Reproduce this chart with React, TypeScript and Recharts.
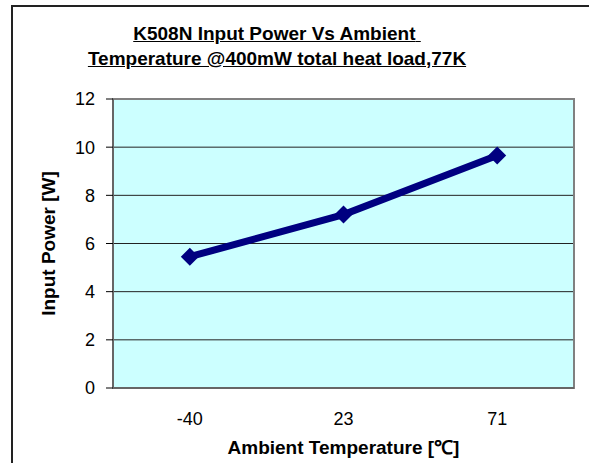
import {
  LineChart,
  Line,
  XAxis,
  YAxis,
  CartesianGrid,
  ReferenceArea,
} from "recharts";

const temps = ["-40", "23", "71"];
const inputPower = [5.45, 7.2, 9.65];
const yTicks = [0, 2, 4, 6, 8, 10, 12];
const bandEdges = [0, 1, 2, 3];
const bandCenters = [0.5, 1.5, 2.5];

const data = temps.map((t, i) => ({ x: bandCenters[i], label: t, power: inputPower[i] }));

const FONT = "'Liberation Sans', Arial, Helvetica, sans-serif";

function Diamond(props: any) {
  const { cx, cy } = props;
  if (cx == null || cy == null) return null;
  const r = 9;
  return (
    <polygon
      points={`${cx},${cy - r} ${cx + r},${cy} ${cx},${cy + r} ${cx - r},${cy}`}
      fill="#000080"
    />
  );
}

export default function App() {
  return (
    <div
      style={{
        position: "absolute",
        left: 0,
        top: 0,
        width: 589,
        height: 463,
        overflow: "hidden",
        background: "#fff",
        fontFamily: FONT,
      }}
    >
      {/* chart area frame */}
      <div
        style={{
          position: "absolute",
          left: 11,
          top: 5,
          width: 700,
          height: 600,
          border: "2px solid #222",
        }}
      />
      {/* title */}
      <div
        style={{
          position: "absolute",
          left: 0,
          top: 21,
          width: 554,
          textAlign: "center",
          fontSize: 19,
          fontWeight: "bold",
          lineHeight: "25px",
          textDecoration: "underline",
          color: "#000",
        }}
      >
        <div>K508N Input Power Vs Ambient{"\u00a0"}</div>
        <div>Temperature @400mW total heat load,77K</div>
      </div>
      <div style={{ position: "absolute", left: 0, top: 0 }}>
        <LineChart
          width={589}
          height={463}
          data={data}
          margin={{ top: 99, right: 15, bottom: 7, left: 13 }}
        >
          <CartesianGrid
            fill="#CCFFFF"
            stroke="#222"
            strokeWidth={1}
            fillOpacity={1}
          />
          <ReferenceArea
            x1={0}
            x2={3}
            y1={0}
            y2={12}
            fill="none"
            stroke="#808080"
            strokeWidth={2}
            ifOverflow="visible"
          />
          <XAxis
            dataKey="x"
            type="number"
            domain={[0, 3]}
            ticks={bandEdges}
            tick={false}
            height={8}
            tickSize={7}
            axisLine={{ stroke: "#666", strokeWidth: 2 }}
            tickLine={{ stroke: "#000" }}
          />
          <XAxis
            xAxisId="lbl"
            dataKey="x"
            type="number"
            domain={[0, 3]}
            ticks={bandCenters}
            tickFormatter={(v: number) => temps[Math.floor(v)]}
            height={60}
            axisLine={false}
            tickLine={false}
            tickSize={0}
            tickMargin={16}
            tick={{ fontSize: 18, fill: "#000", fontFamily: FONT }}
            label={{
              value: "Ambient Temperature [\u2103]",
              position: "insideBottom",
              offset: 2,
              style: { fontSize: 19, fontWeight: "bold", fill: "#000", fontFamily: FONT },
            }}
          />
          <YAxis
            type="number"
            domain={[0, 12]}
            ticks={yTicks}
            width={100}
            tickSize={7}
            tickMargin={11}
            axisLine={{ stroke: "#666", strokeWidth: 2 }}
            tickLine={{ stroke: "#000" }}
            tick={{ fontSize: 18, fill: "#000", fontFamily: FONT }}
            label={{
              value: "Input Power [W]",
              angle: -90,
              position: "insideLeft",
              offset: 35,
              style: {
                fontSize: 19,
                fontWeight: "bold",
                fill: "#000",
                fontFamily: FONT,
                textAnchor: "middle",
              },
            }}
          />
          <Line
            type="linear"
            dataKey="power"
            stroke="#000080"
            strokeWidth={7}
            dot={<Diamond />}
            activeDot={false}
            isAnimationActive={false}
          />
        </LineChart>
      </div>
    </div>
  );
}
